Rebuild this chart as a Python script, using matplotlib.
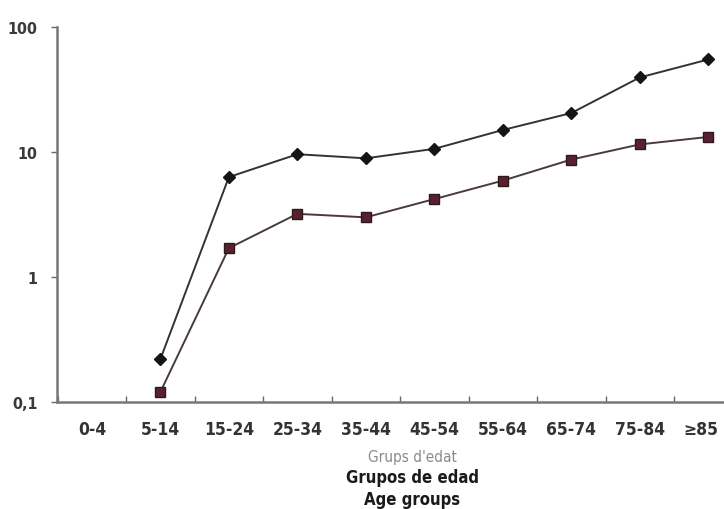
import matplotlib
matplotlib.use("Agg")
import matplotlib.pyplot as plt
import matplotlib.transforms as mtransforms
from matplotlib.ticker import FixedLocator, NullFormatter, NullLocator
import numpy as np

categories = ["0-4", "5-14", "15-24", "25-34", "35-44", "45-54", "55-64", "65-74", "75-84", "≥85"]
series_a = [np.nan, 0.22, 6.3, 9.6, 8.9, 10.6, 15.0, 20.5, 39.5, 55.0]
series_b = [np.nan, 0.12, 1.7, 3.2, 3.0, 4.2, 5.9, 8.7, 11.5, 13.2]
ytick_vals = [0.1, 1, 10, 100]
ytick_labels = ["0,1", "1", "10", "100"]

plt.rcParams['font.family'] = ['DejaVu Sans']
plt.rcParams['font.stretch'] = 'condensed'

fig = plt.figure(figsize=(7.24, 5.10), dpi=100)
ax = fig.add_axes([0.0787, 0.21, 0.9213, 0.735])

x = np.arange(len(categories))
ax.plot(x, series_a, color="#333333", lw=1.4, marker="D", ms=6.5,
        mfc="#151515", mec="#151515", zorder=3)
ax.plot(x, series_b, color="#4a3a3e", lw=1.4, marker="s", ms=7,
        mfc="#5a2030", mec="#2a1a1e", zorder=3)

ax.set_yscale("log")
ax.set_ylim(0.1, 100)
ax.set_xlim(-0.51, 9.23)
ax.yaxis.set_major_locator(FixedLocator(ytick_vals))
ax.set_yticklabels(ytick_labels)
ax.yaxis.set_minor_locator(NullLocator())
ax.yaxis.set_minor_formatter(NullFormatter())

ax.set_xticks(x)
ax.set_xticklabels(categories)
ax.set_xticks(np.arange(len(categories)) - 0.5, minor=True)
ax.tick_params(axis="x", which="major", length=0, pad=13, labelsize=12.5, colors="#333333")
ax.tick_params(axis="x", which="minor", length=4, direction="in", color="#666666", width=1)
ax.tick_params(axis="y", which="major", length=4, direction="out", color="#666666", width=1,
               labelsize=11.5, labelcolor="#3a3a3a", pad=10)
for lab in ax.get_yticklabels():
    lab.set_fontweight("bold")
xlabs = ax.get_xticklabels()
for lab in xlabs:
    lab.set_fontweight("bold")
last = xlabs[-1]
last.set_transform(last.get_transform() + mtransforms.ScaledTranslation(-5 / 72, 0, fig.dpi_scale_trans))

for s in ["top", "right"]:
    ax.spines[s].set_visible(False)
for s in ["left", "bottom"]:
    ax.spines[s].set_color("#777777")
    ax.spines[s].set_linewidth(1.8)

cx = 412 / 724
fig.text(cx, 1 - 458 / 510, "Grups d'edat", ha="center", va="center", fontsize=11, color="#8a8a8a")
fig.text(cx, 1 - 478 / 510, "Grupos de edad", ha="center", va="center", fontsize=12,
         color="#1a1a1a", fontweight="bold")
fig.text(cx, 1 - 500 / 510, "Age groups", ha="center", va="center", fontsize=12,
         color="#1a1a1a", fontweight="bold")

fig.savefig("out.png", dpi=100)
